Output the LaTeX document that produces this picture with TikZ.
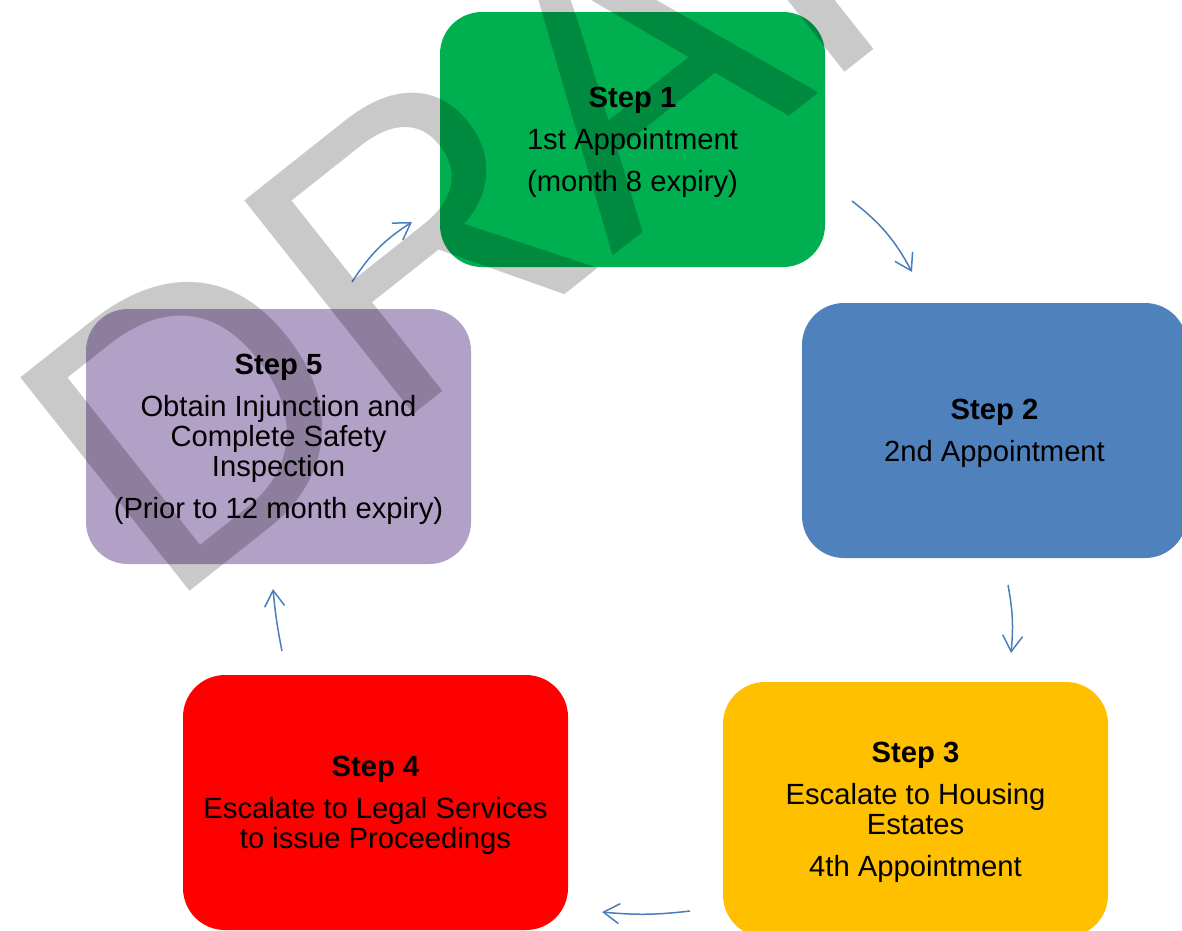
\documentclass[tikz,border=0pt]{standalone}
\usepackage{fontspec}
\setmainfont{Liberation Sans}
\usepackage{xcolor}
\usetikzlibrary{arrows.meta,positioning}
\definecolor{stepgreen}{HTML}{00B050}
\definecolor{stepblue}{HTML}{4F81BD}
\definecolor{stepyellow}{HTML}{FFC000}
\definecolor{stepred}{HTML}{FF0000}
\definecolor{steppurple}{HTML}{B2A1C7}
\definecolor{arrowblue}{HTML}{4A7EBB}
\newcommand{\stephead}[1]{\rule{0pt}{27pt}\textbf{Step #1}}

\begin{document}
\begin{tikzpicture}[x=1pt, y=-1pt,
		stepbox/.style={rectangle, rounded corners=42pt, minimum width=385pt, minimum height=255pt, align=center, inner sep=0pt, font=\fontsize{29.2}{30}\selectfont},
		flow/.style={-{Straight Barb[length=16pt, width=20pt]}, line width=1.5pt, draw=arrowblue}]

		\useasboundingbox (0,0) rectangle (1182,930);
		\clip (0,0) rectangle (1182,930);

		\node [stepbox, fill=stepgreen] (s1) at (632.5,139.5) {\stephead{1}\\[12pt]1st Appointment\\[12pt](month 8 expiry)};
		\node [stepbox, fill=stepblue] (s2) at (994.5,430.5) {\stephead{2}\\[12pt]2nd Appointment};
		\node [stepbox, fill=stepyellow] (s3) at (915.5,809.5) {\stephead{3}\\[12pt]Escalate to Housing\\Estates\\[12pt]4th Appointment};
		\node [stepbox, fill=stepred] (s4) at (375.5,802.5) {\stephead{4}\\[12pt]Escalate to Legal Services\\to issue Proceedings};
		\node [stepbox, fill=steppurple] (s5) at (278.5,436.5) {\stephead{5}\\[12pt]Obtain Injunction and\\Complete Safety\\Inspection\\[12pt](Prior to 12 month expiry)};

		% free arrows between the steps
		\coordinate (a12s) at (852,201);  \coordinate (a12e) at (912,272);
		\coordinate (a23s) at (1008,585); \coordinate (a23e) at (1011,653);
		\coordinate (a34s) at (690,911);  \coordinate (a34e) at (602,912);
		\coordinate (a45s) at (282,651);  \coordinate (a45e) at (273,589);
		\coordinate (a51s) at (352,282);  \coordinate (a51e) at (412,222);

		\draw [flow] (a12s) to[bend left=12] (a12e);
		\draw [flow] (a23s) to[bend left=8] (a23e);
		\draw [flow] (a34s) to[bend left=6] (a34e);
		\draw [flow] (a45s) to[bend left=3] (a45e);
		\draw [flow] (a51s) to[bend left=12] (a51e);

		% watermark
		\node [rotate=38.4, anchor=base west, inner sep=0pt, text=black, text opacity=0.21, font=\fontsize{396}{396}\selectfont] (draft) at (164,612) {DRAFT};

	\end{tikzpicture}
\end{document}
